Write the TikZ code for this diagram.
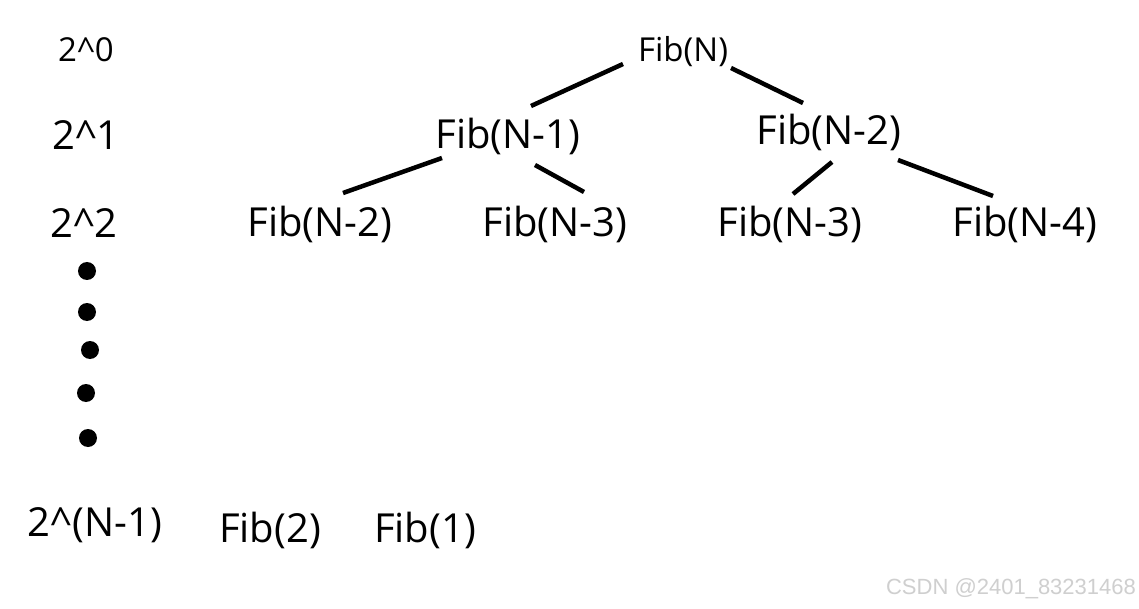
\documentclass[tikz,border=0pt]{standalone}
\usepackage{fontspec}
\setmainfont{Open Sans}
\newfontfamily\wmfont{Liberation Sans}
\usetikzlibrary{calc}
\definecolor{wmgray}{HTML}{CFCFCF}
\tikzset{
  lbl/.style={inner sep=0pt, font=\fontsize{40}{48}\selectfont},
  lblsmall/.style={inner sep=0pt, font=\fontsize{33}{40}\selectfont},
  edge/.style={line width=4.5pt, line cap=butt},
  dot/.style={circle, fill=black, inner sep=0pt, minimum size=18pt}
}
\begin{document}
\begin{tikzpicture}[x=1pt,y=-1pt]
\useasboundingbox[fill=white] (0,0) rectangle (1139,609);
% level labels
\node[lblsmall] (l0) at (86,50) {2\^{}0};
\node[lbl] (l1) at (86,135) {2\^{}1};
\node[lbl] (l2) at (84,223) {2\^{}2};
\node[dot] (d1) at (87,271) {};
\node[dot] (d2) at (87,312) {};
\node[dot] (d3) at (90,350) {};
\node[dot] (d4) at (86,393) {};
\node[dot] (d5) at (88,438) {};
\node[lbl] (ln) at (95,525) {2\^{}(N-1)};
\node[lbl] (f2) at (270,530) {Fib(2)};
\node[lbl] (f1) at (425,530) {Fib(1)};
% tree
\node[lblsmall] (fibN) at (683,52) {Fib(N)};
\node[lbl] (fibN1) at (508,136) {Fib(N-1)};
\node[lbl] (fibN2) at (829,132) {Fib(N-2)};
\node[lbl] (fibA) at (320,224) {Fib(N-2)};
\node[lbl] (fibB) at (555,224) {Fib(N-3)};
\node[lbl] (fibC) at (790,224) {Fib(N-3)};
\node[lbl] (fibD) at (1025,224) {Fib(N-4)};
\draw[edge] ($(fibN)+(-60,12)$) -- ($(fibN1)+(23,-30)$);
\draw[edge] ($(fibN)+(48,16)$) -- ($(fibN2)+(-26,-29)$);
\draw[edge] ($(fibN1)+(-66,22)$) -- ($(fibA)+(23,-31)$);
\draw[edge] ($(fibN1)+(27,29)$) -- ($(fibB)+(29,-32)$);
\draw[edge] ($(fibN2)+(3,30)$) -- ($(fibC)+(3,-30)$);
\draw[edge] ($(fibN2)+(69,28)$) -- ($(fibD)+(-32,-28)$);
% watermark
\node[inner sep=0pt, text=wmgray, font=\wmfont\fontsize{22}{26}\selectfont] (wm) at (1011,589) {CSDN @2401\_83231468};
\end{tikzpicture}
\end{document}
